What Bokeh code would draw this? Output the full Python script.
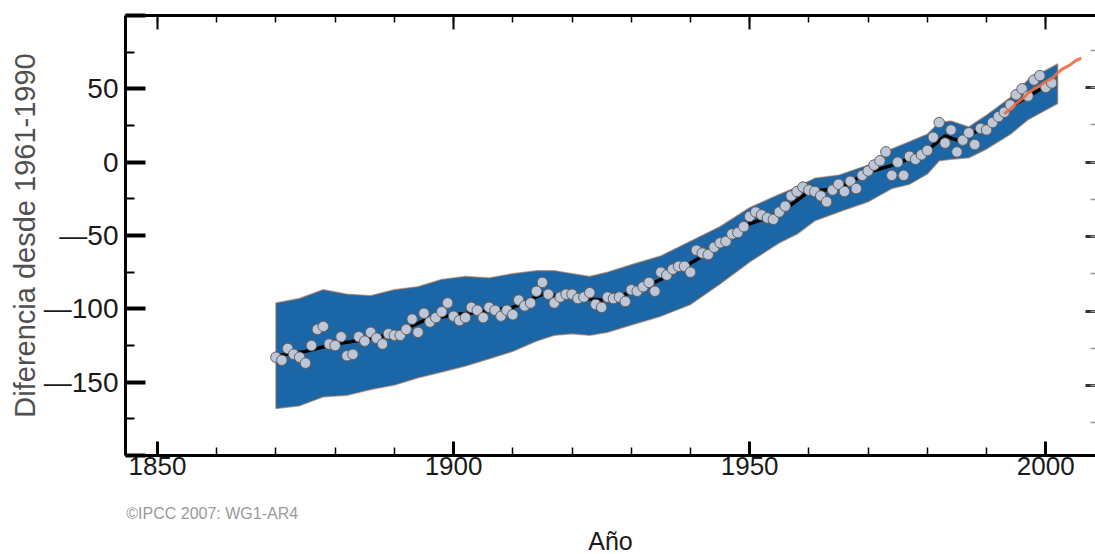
from bokeh.plotting import figure
from bokeh.models import (Range1d, LinearAxis, SingleIntervalTicker, Title)
from bokeh.embed import file_html
from bokeh.resources import INLINE

# ---------------- data ----------------
years = list(range(1870, 2002))
sea_level = [
    -133, -135, -127, -131, -133, -137, -125, -114, -112, -124,   # 1870s
    -125, -119, -132, -131, -119, -122, -116, -120, -124, -117,   # 1880s
    -118, -118, -114, -107, -116, -103, -109, -106, -102, -96,    # 1890s
    -105, -108, -106, -99, -101, -106, -99, -101, -105, -101,     # 1900s
    -104, -94, -98, -96, -88, -82, -90, -96, -92, -90,            # 1910s
    -90, -93, -92, -89, -97, -99, -92, -93, -92, -95,             # 1920s
    -87, -88, -85, -82, -88, -75, -77, -73, -71, -71,             # 1930s
    -75, -60, -62, -63, -58, -55, -54, -49, -48, -44,             # 1940s
    -37, -34, -36, -38, -39, -34, -30, -23, -20, -17,             # 1950s
    -19, -20, -23, -27, -19, -15, -20, -13, -18, -9,              # 1960s
    -6, -2, 1, 7, -9, 0, -9, 4, 2, 5,                             # 1970s
    8, 17, 27, 13, 22, 7, 15, 20, 12, 23,                         # 1980s
    22, 27, 31, 34, 39, 46, 50, 45, 56, 59,                       # 1990s
    51, 54,                                                       # 2000s
]

smooth_years = [1870, 1875, 1880, 1885, 1890, 1895, 1900, 1905, 1910, 1915,
                1920, 1925, 1930, 1935, 1940, 1945, 1950, 1955, 1960, 1965,
                1970, 1975, 1980, 1983, 1985, 1990, 1995, 2000, 2001]
smooth_vals = [-132, -129, -124, -121, -117, -108, -104, -102, -99, -90,
               -92, -94, -89, -80, -69, -57, -42, -35, -20, -18,
               -7, -1, 8, 18, 15, 24, 40, 52, 54]

band_years = [1870, 1874, 1878, 1882, 1886, 1890, 1894, 1898, 1902, 1906,
              1910, 1914, 1917, 1920, 1923, 1926, 1930, 1935, 1940, 1945,
              1950, 1955, 1958, 1961, 1965, 1970, 1974, 1977, 1980, 1982,
              1984, 1987, 1990, 1994, 1997, 2002]
band_upper = [-96, -93, -87, -90, -91, -87, -85, -80, -78, -79,
              -76, -74, -74, -76, -78, -75, -70, -64, -54, -44,
              -31, -22, -17, -11, -9, -2, 9, 14, 19, 27,
              28, 24, 32, 44, 56, 67]
band_lower = [-168, -166, -160, -159, -155, -152, -147, -143, -139, -134,
              -129, -122, -118, -117, -118, -116, -111, -105, -97, -83,
              -68, -55, -49, -40, -34, -27, -18, -15, -8, 1,
              2, 3, 9, 19, 29, 40]

sat_years = list(range(1993, 2007))
sat_vals = [33, 36, 40, 43, 47, 50, 52, 55, 57, 61, 64, 66, 69, 71]

x_ticks_interval = 50
y_ticks_interval = 50
y_label_overrides = {100: "", 50: "50", 0: "0", -50: "\u201450",
                     -100: "\u2014100", -150: "\u2014150", -200: ""}

FONT = "Liberation Sans"
CREDIT = "\u00a9IPCC  2007: WG1-AR4"
CREDIT_PAD = "\u00a0" * 40   # shifts the centred credit line to start at the axis

# ---------------- figure ----------------
p = figure(width=1095, height=554,
           x_range=Range1d(1844.6, 2008.4), y_range=Range1d(-200, 100),
           output_backend="svg", toolbar_location=None,
           min_border_left=125, min_border_right=0,
           min_border_top=15, min_border_bottom=97,
           background_fill_color="white", border_fill_color="white")
p.outline_line_color = None
p.xgrid.visible = False
p.ygrid.visible = False

# uncertainty band
band_xs = band_years + band_years[::-1]
band_ys = band_upper + band_lower[::-1]
p.patch(band_xs, band_ys, fill_color="#1b66a6", line_color="#9a6d55",
        line_alpha=0.6, line_width=1.5)

# smoothed series
p.line(smooth_years, smooth_vals, line_color="black", line_width=3.5)

# annual values
p.scatter(years, sea_level, size=10.5, fill_color="#bcc8d9",
          line_color="#6b5e55", line_width=1)

# satellite series
p.line(sat_years, sat_vals, line_color="#ec6c40", line_width=3, line_alpha=0.9)

# ---------------- axes ----------------
xa = p.xaxis[0]
xa.ticker = SingleIntervalTicker(interval=x_ticks_interval, num_minor_ticks=5)
xa.axis_line_width = 3
xa.major_tick_in = 14
xa.major_tick_out = 0
xa.major_tick_line_width = 3
xa.minor_tick_in = 8
xa.minor_tick_out = 0
xa.minor_tick_line_width = 1.5
xa.major_label_text_font = FONT
xa.major_label_text_font_size = "26px"
xa.major_label_text_color = "#1a1a1a"
xa.major_label_standoff = 1
xa.axis_label = CREDIT_PAD + CREDIT
xa.axis_label_text_font = FONT
xa.axis_label_text_font_size = "16px"
xa.axis_label_text_font_style = "normal"
xa.axis_label_text_color = "#9a9a9a"
xa.axis_label_standoff = 27
try:
    xa.axis_label_align = "start"
except Exception:
    pass

ya = p.yaxis[0]
ya.ticker = SingleIntervalTicker(interval=y_ticks_interval, num_minor_ticks=2)
ya.axis_line_width = 3
ya.major_tick_in = 20
ya.major_tick_out = 0
ya.major_tick_line_width = 4
ya.minor_tick_in = 9
ya.minor_tick_out = 0
ya.minor_tick_line_width = 2
ya.major_label_overrides = y_label_overrides
ya.major_label_text_font = FONT
ya.major_label_text_font_size = "28px"
ya.major_label_text_color = "#1a1a1a"
ya.major_label_standoff = 7
ya.axis_label = "Diferencia desde 1961-1990"
ya.axis_label_text_font = FONT
ya.axis_label_text_font_size = "29px"
ya.axis_label_text_font_style = "normal"
ya.axis_label_text_color = "#505050"
ya.axis_label_standoff = 0

top = LinearAxis(ticker=SingleIntervalTicker(interval=x_ticks_interval, num_minor_ticks=5))
top.axis_line_width = 3
top.major_tick_in = 14
top.major_tick_out = 0
top.major_tick_line_width = 2
top.minor_tick_in = 7
top.minor_tick_out = 0
top.minor_tick_line_width = 1.5
top.major_label_text_font_size = "0px"
top.major_label_text_color = None
top.major_label_standoff = 0
p.add_layout(top, "above")

p.extra_y_ranges = {"inch": Range1d(-200 / 25.4, 100 / 25.4)}
right = LinearAxis(y_range_name="inch",
                   ticker=SingleIntervalTicker(interval=2, num_minor_ticks=2))
right.axis_line_color = None
right.major_tick_in = 10
right.major_tick_out = 0
right.major_tick_line_width = 3
right.minor_tick_in = 5
right.minor_tick_out = 0
right.minor_tick_line_width = 1.5
right.major_tick_line_color = "#333333"
right.minor_tick_line_color = "#999999"
right.major_label_text_font_size = "0px"
right.major_label_text_color = None
right.major_label_standoff = 0
p.add_layout(right, "right")

# ---------------- x title ----------------
xlabel = Title(text="A\u00f1o", align="center", offset=-12, standoff=0,
               text_font=FONT, text_font_size="25px",
               text_font_style="normal", text_color="#1a1a1a")
p.add_layout(xlabel, "below")

open("out.html", "w").write(file_html(p, INLINE))
